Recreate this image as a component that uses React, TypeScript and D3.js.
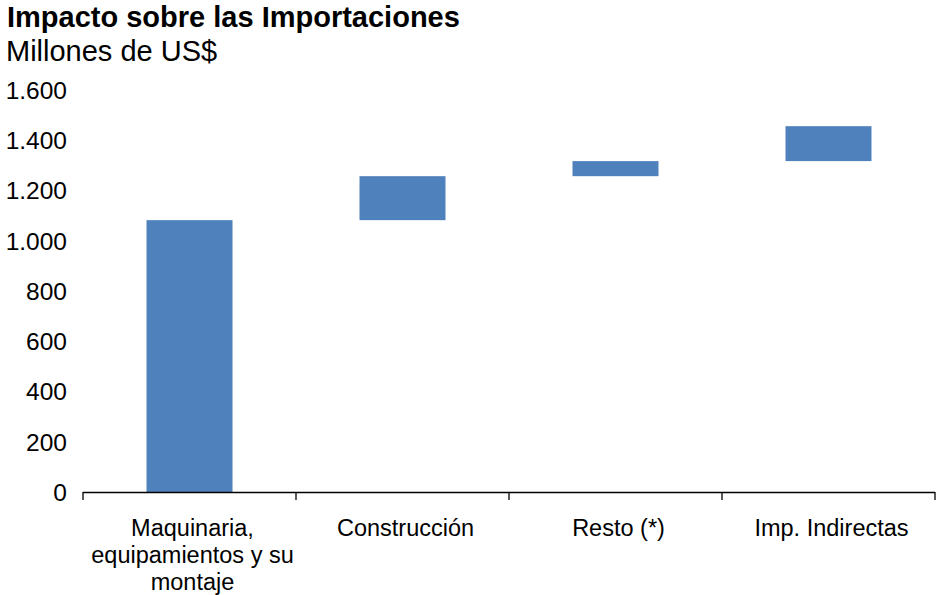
import React, { useEffect, useRef } from "react";
import * as d3 from "d3";

const categories: string[][] = [
  ["Maquinaria,", "equipamientos y su", "montaje"],
  ["Construcción"],
  ["Resto (*)"],
  ["Imp. Indirectas"],
];
const increments: number[] = [1082, 175, 60, 139];
const yTicks: number[] = [0, 200, 400, 600, 800, 1000, 1200, 1400, 1600];
const titleText = "Impacto sobre las Importaciones";
const subtitleText = "Millones de US$";

const W = 938;
const H = 595;
const FONT = "'Liberation Sans', Arial, sans-serif";

export default function App() {
  const ref = useRef<SVGSVGElement>(null);
  useEffect(() => {
    const svg = d3.select(ref.current);
    svg.selectAll("*").remove();

    const x0 = 83, x1 = 935, yZero = 492, yTop = 90;
    const band = d3.scaleBand<number>().domain(d3.range(categories.length)).range([x0, x1]);
    const y = d3.scaleLinear().domain([0, 1600]).range([yZero, yTop]);

    svg.append("text").attr("x", 7).attr("y", 27).attr("font-family", FONT).attr("font-size", 29).attr("font-weight", "bold").attr("fill", "#000").text(titleText);
    svg.append("text").attr("x", 6).attr("y", 61).attr("font-family", FONT).attr("font-size", 29).attr("fill", "#000").text(subtitleText);

    // y tick labels
    svg.append("g").selectAll("text").data(yTicks).join("text")
      .attr("x", 67).attr("y", (d) => y(d)).attr("dy", "0.36em")
      .attr("text-anchor", "end").attr("font-family", FONT).attr("font-size", 24.5).attr("fill", "#000")
      .text((d) => d3.format(",")(d).replace(/,/g, "."));

    // bars (waterfall)
    const cum: number[] = [];
    increments.reduce((acc, v, i) => { cum[i] = acc; return acc + v; }, 0);
    const bw = 86;
    svg.append("g").selectAll("rect").data(increments).join("rect")
      .attr("x", (_, i) => (band(i) as number) + band.bandwidth() / 2 - bw / 2)
      .attr("width", bw)
      .attr("y", (d, i) => y(cum[i] + d))
      .attr("height", (d, i) => y(cum[i]) - y(cum[i] + d))
      .attr("fill", "#4F81BD");

    // x axis
    svg.append("line").attr("x1", x0).attr("x2", x1).attr("y1", yZero + 0.5).attr("y2", yZero + 0.5).attr("stroke", "#000").attr("stroke-width", 1.3);
    const tickXs = d3.range(categories.length + 1).map((i) => x0 + i * band.step());
    svg.append("g").selectAll("line").data(tickXs).join("line")
      .attr("x1", (d) => d).attr("x2", (d) => d).attr("y1", yZero).attr("y2", yZero + 8)
      .attr("stroke", "#000").attr("stroke-width", 1.3);

    // category labels
    const g = svg.append("g");
    categories.forEach((lines, i) => {
      const cx = (band(i) as number) + band.bandwidth() / 2 + 3;
      const t = g.append("text").attr("text-anchor", "middle").attr("font-family", FONT).attr("font-size", 23.5).attr("fill", "#000");
      lines.forEach((ln, j) => {
        t.append("tspan").attr("x", cx).attr("y", 536 + j * 27).text(ln);
      });
    });
  }, []);
  return <svg ref={ref} width={W} height={H} style={{ position: "absolute", left: 0, top: 0, background: "#fff" }} />;
}
